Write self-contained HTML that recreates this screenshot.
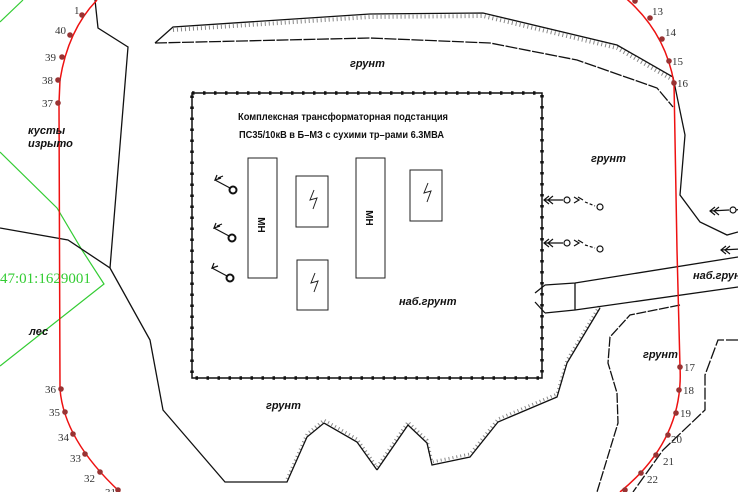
<!DOCTYPE html>
<html><head><meta charset="utf-8"><style>
html,body{margin:0;padding:0;background:#fff;}
svg{display:block;}
.lbl{font-family:"Liberation Sans",sans-serif;font-style:italic;font-weight:bold;font-size:11px;fill:#111;}
.num{font-family:"Liberation Serif",serif;font-size:11px;fill:#333;}
.t{font-family:"Liberation Sans",sans-serif;font-weight:bold;font-size:10px;fill:#111;}
</style></head><body>
<svg width="738" height="492" viewBox="0 0 738 492" xmlns="http://www.w3.org/2000/svg">
<rect width="738" height="492" fill="#fff"/>
<!-- green -->
<g stroke="#3c3" stroke-width="1.2" fill="none">
<line x1="0" y1="22" x2="23" y2="0"/>
<polyline points="0,152 57,208 82,250 104,284 0,366"/>
</g>
<text x="0" y="283" font-family="Liberation Serif,serif" font-size="15" fill="#3c3">47:01:1629001</text>
<!-- black outlines -->
<g stroke="#111" stroke-width="1.3" fill="none">
<polyline points="95,0 98,28 128,47 110,268"/>
<polyline points="0,228 68,240 110,268 150,340 163,410 225,482 287,482 307,437 324,423 357,442 377,470"/>
<polyline points="377,470 408,425 427,443 432,465 470,457 498,422 557,397 567,363 600,308"/>
<polyline points="155,43 173,27 370,14 483,13 617,45 673,77 685,135 680,195 700,222 727,235 738,232"/>
<polyline points="155,43 370,38 490,43 577,60 657,88 673,107" stroke-dasharray="12,1.5"/>
<polyline points="680,305 630,315 610,337 608,363 617,393 618,423 597,492" stroke-dasharray="10,1.5"/>
<polyline points="738,340 718,340 705,375 705,410 663,450 633,492" stroke-dasharray="12,2"/>
<polyline points="545,285 575,283 738,257"/>
<polyline points="545,313 575,310 738,287"/>
<line x1="575" y1="283" x2="575" y2="310"/>
<line x1="535" y1="293" x2="545" y2="285"/>
<line x1="535" y1="302" x2="545" y2="313"/>
</g>
<!-- tick marks -->
<g stroke="#111" stroke-width="1" fill="none" stroke-dasharray="1,3">
<polyline points="173,30 370,17 483,16 617,48 673,80" stroke-width="4" opacity="0.5"/>
<polyline points="287,479 307,434 324,420 357,439 377,467 408,422 427,440 432,462 470,454 498,419 557,394 567,360 600,305" stroke-width="3" opacity="0.5"/>
</g>
<!-- red boundary -->
<g stroke="#e11" stroke-width="1.5" fill="none">
<path d="M97,0 Q68,30 60,80 L59,103 L60,389 Q64,440 120,492"/>
<path d="M622,-5 Q665,30 674,83 L677,250 L680,367 Q684,440 620,492"/>
</g>
<g fill="#933">
<circle cx="82" cy="15" r="2.8"/><circle cx="70" cy="35" r="2.8"/><circle cx="62" cy="57" r="2.8"/><circle cx="58" cy="80" r="2.8"/><circle cx="58" cy="103" r="2.8"/>
<circle cx="61" cy="389" r="2.8"/><circle cx="65" cy="412" r="2.8"/><circle cx="73" cy="434" r="2.8"/><circle cx="85" cy="454" r="2.8"/><circle cx="100" cy="472" r="2.8"/><circle cx="118" cy="490" r="2.8"/>
<circle cx="635" cy="1" r="2.8"/><circle cx="650" cy="18" r="2.8"/><circle cx="662" cy="39" r="2.8"/><circle cx="669" cy="61" r="2.8"/><circle cx="674" cy="83" r="2.8"/>
<circle cx="680" cy="367" r="2.8"/><circle cx="679" cy="390" r="2.8"/><circle cx="676" cy="413" r="2.8"/><circle cx="668" cy="435" r="2.8"/><circle cx="656" cy="455" r="2.8"/><circle cx="641" cy="473" r="2.8"/><circle cx="625" cy="490" r="2.8"/>
</g>
<g class="num">
<text x="74" y="14">1</text><text x="55" y="34">40</text><text x="45" y="61">39</text><text x="42" y="84">38</text><text x="42" y="107">37</text>
<text x="45" y="393">36</text><text x="49" y="416">35</text><text x="58" y="441">34</text><text x="70" y="462">33</text><text x="84" y="482">32</text><text x="105" y="496">31</text>
<text x="652" y="15">13</text><text x="665" y="36">14</text><text x="672" y="65">15</text><text x="677" y="87">16</text>
<text x="684" y="371">17</text><text x="683" y="394">18</text><text x="680" y="417">19</text><text x="671" y="443">20</text><text x="663" y="465">21</text><text x="647" y="483">22</text>
</g>
<!-- substation fence -->
<rect x="192" y="93" width="350" height="285" fill="none" stroke="#111" stroke-width="1.5"/>
<rect x="192" y="93" width="350" height="285" fill="none" stroke="#111" stroke-width="3.5" stroke-dasharray="2.5,8.5"/>
<text class="t" x="238" y="120" textLength="210" lengthAdjust="spacingAndGlyphs">Комплексная трансформаторная подстанция</text>
<text class="t" x="239" y="138" textLength="205" lengthAdjust="spacingAndGlyphs">ПС35/10кВ в Б–МЗ с сухими тр–рами 6.3МВА</text>
<g stroke="#222" stroke-width="1" fill="none">
<rect x="248" y="158" width="29" height="120"/>
<rect x="356" y="158" width="29" height="120"/>
<rect x="296" y="176" width="32" height="51"/>
<rect x="410" y="170" width="32" height="51"/>
<rect x="297" y="260" width="31" height="50"/>
<path d="M314,190 l-4,10 l7,-2 l-4,11"/>
<path d="M428,183 l-4,10 l7,-2 l-4,11"/>
<path d="M315,273 l-4,10 l7,-2 l-4,11"/>
</g>
<text class="t" transform="translate(258,225) rotate(90)" text-anchor="middle" font-size="9">МН</text>
<text class="t" transform="translate(366,218) rotate(90)" text-anchor="middle" font-size="9">МН</text>
<!-- left arrows -->
<g stroke="#111" stroke-width="1.2" fill="none">
<g transform="translate(233,190)"><circle r="3.5" stroke-width="2"/><line x1="-3" y1="-2" x2="-18" y2="-10"/><path d="M-12,-12 l-6,2 l2,-5 M-10,-14 l-5,2"/></g>
<g transform="translate(232,238)"><circle r="3.5" stroke-width="2"/><line x1="-3" y1="-2" x2="-18" y2="-10"/><path d="M-12,-12 l-6,2 l2,-5 M-10,-14 l-5,2"/></g>
<g transform="translate(230,278)"><circle r="3.5" stroke-width="2"/><line x1="-3" y1="-2" x2="-18" y2="-10"/><path d="M-12,-12 l-6,2 l2,-5"/></g>
<!-- right arrows -->
<g transform="translate(543,200)"><path d="M6,-4 l-5,4 l5,4 M10,-4 l-5,4 l5,4"/><line x1="1" y1="0" x2="20" y2="0"/><circle cx="24" cy="0" r="3"/><path d="M31,-3 l5,3 l-5,3 M35,-3 l5,3"/><line x1="42" y1="2" x2="52" y2="6" stroke-dasharray="3,2"/><circle cx="57" cy="7" r="3"/></g>
<g transform="translate(543,243)"><path d="M6,-4 l-5,4 l5,4 M10,-4 l-5,4 l5,4"/><line x1="1" y1="0" x2="20" y2="0"/><circle cx="24" cy="0" r="3"/><path d="M31,-3 l5,3 l-5,3 M35,-3 l5,3"/><line x1="42" y1="2" x2="52" y2="5" stroke-dasharray="3,2"/><circle cx="57" cy="6" r="3"/></g>
<g transform="translate(709,211)"><path d="M6,-4 l-5,4 l5,4 M10,-4 l-5,4 l5,4"/><line x1="1" y1="0" x2="20" y2="-1"/><circle cx="24" cy="-1" r="3"/><line x1="27" y1="-1" x2="32" y2="-2"/></g>
<g transform="translate(720,250)"><path d="M6,-4 l-5,4 l5,4 M10,-4 l-5,4 l5,4"/><line x1="1" y1="0" x2="20" y2="-1"/><circle cx="22" cy="-1" r="3"/></g>
</g>
<!-- labels -->
<g class="lbl">
<text x="350" y="67">грунт</text>
<text x="591" y="162">грунт</text>
<text x="643" y="358">грунт</text>
<text x="266" y="409">грунт</text>
<text x="399" y="305">наб.грунт</text>
<text x="693" y="279">наб.грунт</text>
<text x="28" y="134">кусты</text>
<text x="28" y="147">изрыто</text>
<text x="29" y="335">лес</text>
</g>
</svg>
</body></html>
